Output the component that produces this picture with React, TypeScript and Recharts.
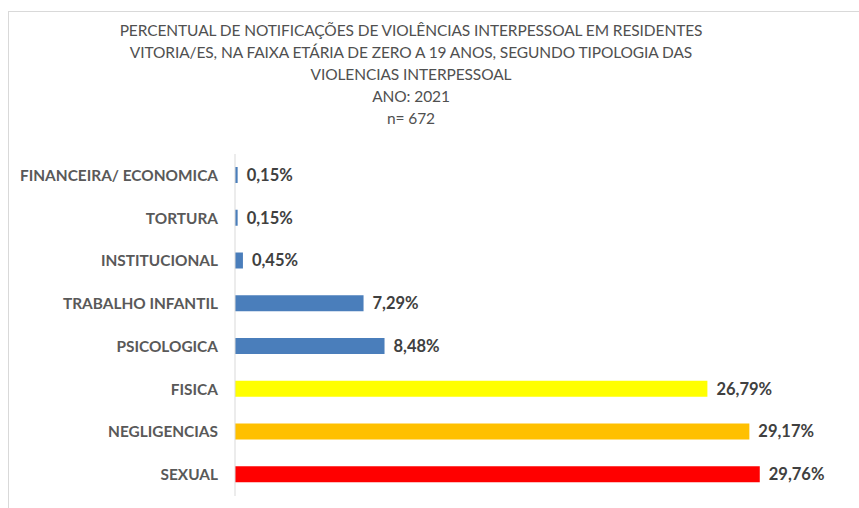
import { Bar, BarChart, Cell, LabelList, XAxis, YAxis } from "recharts";

const categorias = [
  "FINANCEIRA/ ECONOMICA",
  "TORTURA",
  "INSTITUCIONAL",
  "TRABALHO INFANTIL",
  "PSICOLOGICA",
  "FISICA",
  "NEGLIGENCIAS",
  "SEXUAL"
];
const percentuais = [0.15, 0.15, 0.45, 7.29, 8.48, 26.79, 29.17, 29.76];
const cores = ["#4a7ebb", "#4a7ebb", "#4a7ebb", "#4a7ebb", "#4a7ebb", "#ffff00", "#ffc000", "#ff0000"];

const titulo = [
  "PERCENTUAL DE NOTIFICAÇÕES DE VIOLÊNCIAS INTERPESSOAL EM RESIDENTES",
  "VITORIA/ES, NA FAIXA ETÁRIA DE ZERO A 19 ANOS, SEGUNDO TIPOLOGIA DAS",
  "VIOLENCIAS INTERPESSOAL",
  "ANO: 2021",
  "n= 672"
];

const data = categorias.map((nome, i) => ({ nome, valor: percentuais[i], cor: cores[i] }));

const FONT = "Lato, 'Open Sans', sans-serif";

export default function App() {
  return (
    <div style={{ position: "absolute", left: 0, top: 0, width: 859, height: 508, background: "#fff", overflow: "hidden", fontFamily: FONT }}>
      <div
        style={{
          position: "absolute",
          left: 8,
          top: 11,
          width: 900,
          height: 600,
          borderLeft: "1px solid #d9d9d9",
          borderTop: "1px solid #d9d9d9"
        }}
      />
      <div style={{ position: "absolute", left: 0, top: 19, width: 822, textAlign: "center", color: "#505050", fontSize: 15.5, lineHeight: "22px", letterSpacing: -0.1 }}>
        {titulo.map((t) => (
          <div key={t}>{t}</div>
        ))}
      </div>
      <div style={{ position: "absolute", left: 0, top: 0 }}>
        <BarChart
          width={859}
          height={508}
          data={data}
          layout="vertical"
          margin={{ top: 154, right: 95, bottom: 12, left: 8 }}
        >
          <XAxis type="number" domain={[0, 30]} hide />
          <YAxis
            type="category"
            dataKey="nome"
            width={227}
            axisLine={{ stroke: "#d9d9d9" }}
            tickLine={false}
            tickMargin={11}
            tick={{ fill: "#595959", fontSize: 15.4, fontWeight: 700, fontFamily: FONT }}
          />
          <Bar dataKey="valor" barSize={16} isAnimationActive={false}>
            {data.map((d) => (
              <Cell key={d.nome} fill={d.cor} />
            ))}
            <LabelList
              dataKey="valor"
              position="right"
              offset={9}
              formatter={(v: number) => `${v.toFixed(2).replace(".", ",")}%`}
              style={{ fill: "#404040", fontSize: 16.5, fontWeight: 700, fontFamily: FONT }}
            />
          </Bar>
        </BarChart>
      </div>
    </div>
  );
}
